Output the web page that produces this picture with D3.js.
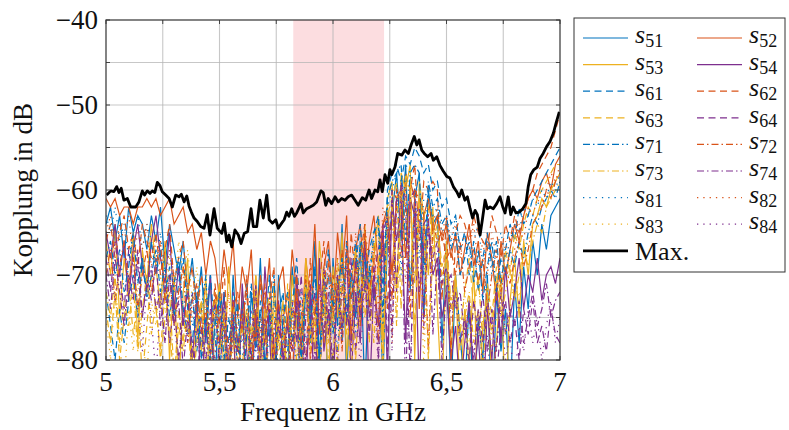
<!DOCTYPE html>
<html>
<head>
<meta charset="utf-8">
<script src="https://cdn.jsdelivr.net/npm/d3@7"></script>
<style>
  body { margin: 0; background: #fff; }
  svg { display: block; }
  svg text { font-family: "Liberation Serif", "Times New Roman", serif; fill: #111; }
</style>
</head>
<body>
<div id="chart"></div>
<script>
// sampling of the coupling curves (GHz)
const freqStart = 5, freqStep = 0.02, freqCount = 101;
const freqs = d3.range(freqCount).map(i => +(freqStart + i * freqStep).toFixed(2));

const seriesNames = ["51", "52", "53", "54", "61", "62", "63", "64", "71", "72", "73", "74", "81", "82", "83", "84"];

const s51 = [-64,-62,-66,-63,-68,-62,-65,-63,-64,-67, -63,-66,-62,-69,-64,-67,-70,-66,-72,-68,
  -74,-69,-78,-70,-83,-71,-76,-84,-70,-79, -73,-85,-72,-78,-68,-81,-74,-86,-70,-77,
  -82,-69,-75,-84,-71,-78,-66,-80,-70,-85, -68,-76,-64,-82,-70,-75,-66,-84,-69,-73,
  -70,-82,-66,-63,-58,-66,-57,-72,-61,-58, -75,-60,-64,-63,-78,-66,-84,-70,-77,-84,
  -73,-86,-75,-80,-70,-88,-72,-79,-74,-85, -71,-78,-69,-74,-66,-70,-64,-67,-63,-62, -61];
const s52 = [-61,-62,-61,-63,-62,-62,-64,-62,-62,-61, -62,-61,-63,-62,-61,-64,-63,-62,-65,-64,
  -67,-65,-70,-66,-68,-73,-67,-71,-66,-75, -69,-72,-67,-78,-70,-74,-68,-80,-71,-69,
  -76,-67,-72,-79,-68,-73,-64,-77,-69,-66, -74,-65,-70,-63,-78,-67,-64,-72,-66,-63,
  -69,-64,-62,-70,-61,-60,-68,-59,-61,-74, -63,-61,-65,-63,-66,-64,-68,-65,-70,-67,
  -64,-69,-66,-72,-65,-68,-73,-66,-70,-67, -64,-66,-63,-61,-60,-61,-59,-58,-60,-57, -56];
const s53 = [-66,-70,-64,-75,-68,-72,-65,-78,-67,-71, -64,-69,-74,-66,-80,-70,-84,-72,-68,-86,
  -74,-79,-70,-88,-75,-71,-82,-69,-77,-85, -72,-76,-83,-70,-79,-74,-87,-71,-78,-73,
  -84,-70,-76,-81,-68,-74,-79,-66,-72,-83, -69,-75,-65,-80,-71,-67,-76,-64,-73,-68,
  -63,-78,-61,-59,-72,-58,-60,-57,-80,-59, -63,-70,-62,-74,-85,-66,-79,-70,-85,-74,
  -81,-69,-87,-76,-72,-83,-78,-70,-86,-73, -68,-75,-66,-70,-64,-63,-61,-62,-60,-59, -58];
const s54 = [-65,-68,-64,-70,-66,-73,-67,-64,-69,-72, -66,-63,-68,-71,-65,-74,-69,-76,-71,-80,
  -73,-84,-76,-70,-86,-78,-72,-83,-75,-88, -71,-79,-85,-74,-81,-69,-77,-87,-73,-80,
  -75,-85,-70,-78,-83,-72,-86,-68,-79,-74, -84,-70,-77,-67,-82,-72,-78,-66,-85,-71,
  -76,-64,-82,-61,-66,-62,-78,-61,-63,-84, -66,-64,-70,-68,-75,-72,-80,-76,-84,-78,
  -73,-82,-77,-86,-74,-80,-71,-78,-69,-75, -72,-68,-74,-70,-72,-68,-73,-70,-69,-71, -68];
const s61 = [-72,-76,-80,-74,-78,-73,-70,-75,-68,-72, -66,-70,-67,-73,-69,-75,-71,-68,-74,-78,
  -72,-80,-75,-70,-77,-83,-72,-78,-74,-81, -76,-71,-79,-85,-73,-77,-70,-82,-75,-72,
  -79,-74,-68,-77,-71,-75,-69,-80,-72,-67, -74,-70,-78,-66,-73,-69,-64,-71,-67,-65,
  -63,-72,-60,-58,-57,-59,-56,-57,-55,-56, -58,-57,-60,-59,-62,-61,-64,-63,-67,-65,
  -70,-66,-72,-68,-65,-69,-66,-71,-67,-64, -66,-62,-64,-63,-61,-60,-59,-58,-57,-56, -55];
const s62 = [-66,-64,-68,-65,-63,-67,-65,-69,-64,-66, -68,-65,-70,-67,-64,-71,-68,-66,-72,-69,
  -75,-70,-73,-78,-71,-76,-69,-80,-74,-72, -77,-70,-82,-75,-71,-78,-73,-69,-84,-76,
  -72,-79,-70,-74,-81,-68,-75,-71,-66,-78, -70,-73,-67,-76,-65,-71,-68,-64,-74,-66,
  -70,-65,-74,-60,-61,-68,-58,-60,-57,-66, -59,-60,-59,-60,-73,-63,-80,-65,-63,-64,
  -66,-63,-65,-66,-67,-63,-65,-68,-64,-66, -63,-65,-63,-61,-60,-58,-57,-56,-55,-53, -51];
const s63 = [-74,-78,-72,-80,-75,-71,-77,-73,-82,-76, -70,-74,-79,-72,-76,-83,-74,-78,-71,-80,
  -76,-73,-85,-77,-72,-79,-75,-86,-73,-78, -81,-74,-77,-70,-84,-76,-72,-80,-75,-87,
  -71,-78,-74,-82,-69,-77,-73,-85,-70,-76, -80,-68,-75,-72,-83,-67,-74,-70,-78,-66,
  -68,-80,-63,-61,-59,-74,-58,-60,-77,-61, -63,-62,-66,-64,-69,-67,-73,-70,-77,-72,
  -68,-74,-70,-78,-71,-75,-69,-73,-67,-70, -65,-67,-64,-62,-63,-61,-60,-59,-58,-57, -57];
const s64 = [-68,-72,-66,-70,-74,-67,-71,-69,-75,-70, -73,-68,-76,-71,-78,-73,-80,-75,-72,-82,
  -77,-74,-86,-79,-73,-81,-76,-84,-72,-78, -83,-75,-80,-71,-87,-77,-74,-82,-76,-79,
  -85,-73,-78,-70,-81,-75,-72,-84,-69,-77, -74,-80,-71,-76,-68,-79,-73,-66,-75,-70,
  -67,-64,-79,-60,-72,-59,-62,-82,-63,-62, -76,-64,-68,-66,-71,-69,-74,-72,-78,-75,
  -80,-73,-77,-72,-79,-74,-82,-76,-73,-78, -75,-80,-74,-77,-73,-78,-76,-79,-74,-77, -78];
const s71 = [-68,-66,-70,-67,-72,-69,-65,-71,-68,-73, -70,-67,-72,-69,-75,-71,-68,-74,-77,-72,
  -79,-74,-70,-82,-76,-72,-80,-75,-78,-73, -85,-77,-71,-79,-74,-81,-76,-70,-83,-75,
  -72,-78,-74,-80,-71,-76,-69,-82,-73,-70, -77,-72,-68,-75,-70,-66,-73,-68,-71,-65,
  -64,-75,-61,-59,-58,-57,-66,-58,-57,-58, -70,-59,-62,-61,-64,-63,-67,-65,-70,-68,
  -66,-71,-67,-73,-69,-66,-72,-68,-70,-67, -69,-66,-68,-65,-63,-64,-62,-61,-60,-61, -59];
const s72 = [-70,-67,-73,-69,-66,-71,-68,-74,-70,-67, -72,-69,-66,-73,-70,-76,-72,-69,-78,-73,
  -71,-77,-74,-80,-72,-78,-75,-83,-73,-79, -76,-72,-81,-74,-78,-71,-85,-76,-73,-79,
  -75,-82,-72,-77,-70,-80,-74,-71,-78,-68, -75,-71,-79,-67,-73,-69,-76,-65,-72,-68,
  -78,-64,-63,-73,-60,-61,-59,-75,-60,-61, -63,-79,-64,-66,-65,-68,-67,-70,-66,-72,
  -69,-67,-71,-68,-74,-70,-67,-72,-69,-71, -68,-66,-69,-67,-64,-63,-62,-60,-61,-59, -58];
const s73 = [-72,-75,-70,-78,-73,-76,-71,-79,-74,-70, -77,-73,-80,-75,-72,-82,-76,-79,-74,-84,
  -78,-73,-81,-76,-87,-79,-74,-83,-77,-80, -75,-86,-78,-72,-81,-76,-84,-73,-79,-77,
  -83,-74,-80,-76,-71,-79,-75,-82,-72,-78, -74,-81,-70,-77,-73,-80,-69,-75,-71,-78,
  -68,-82,-64,-62,-76,-61,-59,-60,-71,-61, -64,-80,-67,-65,-70,-68,-74,-71,-79,-75,
  -72,-78,-74,-81,-73,-77,-70,-75,-72,-69, -73,-70,-67,-69,-66,-64,-65,-62,-61,-60, -60];
const s74 = [-70,-74,-68,-72,-76,-70,-73,-67,-75,-71, -69,-74,-72,-78,-70,-76,-73,-81,-75,-78,
  -83,-76,-80,-74,-85,-78,-73,-82,-77,-79, -74,-84,-78,-72,-80,-75,-86,-77,-74,-81,
  -76,-79,-73,-84,-75,-71,-80,-74,-77,-72, -82,-70,-76,-73,-79,-68,-75,-71,-77,-69,
  -80,-65,-63,-77,-61,-60,-84,-61,-60,-72, -64,-63,-77,-68,-80,-71,-70,-74,-72,-77,
  -75,-80,-74,-78,-73,-76,-79,-72,-77,-74, -76,-73,-78,-75,-72,-76,-74,-71,-75,-73, -72];
const s81 = [-63,-65,-62,-66,-64,-68,-65,-63,-67,-64, -66,-69,-65,-70,-67,-72,-69,-74,-71,-76,
  -73,-78,-75,-80,-74,-79,-76,-82,-75,-78, -80,-74,-83,-77,-75,-81,-78,-73,-85,-76,
  -79,-74,-82,-72,-78,-75,-70,-80,-73,-76, -71,-79,-68,-74,-70,-77,-67,-72,-69,-66,
  -65,-76,-62,-60,-58,-70,-57,-58,-60,-68, -61,-60,-63,-62,-65,-64,-66,-63,-67,-65,
  -68,-66,-64,-69,-66,-70,-67,-65,-68,-66, -64,-65,-62,-63,-61,-62,-60,-61,-59,-60, -58];
const s82 = [-65,-63,-67,-64,-66,-63,-68,-65,-67,-64, -69,-66,-68,-71,-67,-70,-73,-69,-72,-75,
  -71,-77,-73,-76,-80,-74,-78,-72,-81,-76, -74,-79,-77,-83,-75,-78,-73,-80,-76,-74,
  -82,-75,-71,-78,-74,-69,-77,-72,-75,-70, -76,-68,-73,-66,-71,-65,-74,-64,-69,-67,
  -74,-62,-64,-78,-62,-60,-71,-62,-60,-63, -77,-61,-64,-62,-65,-63,-66,-64,-68,-65,
  -67,-64,-69,-66,-70,-65,-68,-71,-66,-69, -67,-64,-66,-62,-63,-61,-62,-60,-58,-59, -57];
const s83 = [-75,-80,-72,-78,-83,-74,-79,-71,-77,-82, -73,-76,-70,-74,-68,-72,-66,-70,-67,-73,
  -69,-75,-71,-78,-73,-80,-76,-72,-79,-75, -82,-74,-78,-71,-80,-76,-73,-84,-77,-74,
  -79,-72,-81,-75,-70,-78,-73,-76,-69,-80, -74,-71,-77,-68,-75,-72,-66,-73,-70,-65,
  -64,-80,-62,-61,-75,-60,-62,-70,-63,-62, -81,-64,-67,-66,-70,-68,-73,-71,-76,-72,
  -78,-74,-71,-76,-73,-79,-75,-72,-77,-74, -70,-73,-68,-66,-64,-63,-62,-61,-60,-60, -59];
const s84 = [-67,-70,-73,-69,-76,-72,-68,-74,-79,-71, -75,-82,-73,-78,-70,-76,-80,-74,-78,-72,
  -77,-81,-75,-84,-79,-73,-86,-78,-75,-81, -77,-83,-74,-79,-76,-85,-72,-80,-78,-74,
  -81,-77,-73,-86,-79,-75,-82,-71,-77,-74, -80,-72,-78,-69,-76,-73,-81,-70,-75,-72,
  -81,-66,-64,-79,-61,-62,-60,-85,-62,-64, -73,-65,-69,-67,-72,-70,-75,-73,-78,-76,
  -82,-79,-75,-81,-77,-84,-78,-74,-80,-77, -83,-76,-79,-74,-78,-75,-80,-76,-73,-78, -75];

const seriesValues = [s51, s52, s53, s54, s61, s62, s63, s64, s71, s72, s73, s74, s81, s82, s83, s84];

// envelope (Max.)
const maxFreq = [5.003,5.021,5.035,5.047,5.057,5.067,5.079,5.094,5.109,5.131,5.145,5.160,5.170,5.182,5.194,5.204,5.215,5.226,5.238,5.248,
  5.263,5.278,5.292,5.307,5.322,5.332,5.344,5.356,5.366,5.376,5.388,5.402,5.417,5.432,5.446,5.458,5.476,5.490,5.510,5.521,
  5.532,5.542,5.554,5.568,5.583,5.595,5.609,5.624,5.639,5.649,5.664,5.678,5.693,5.708,5.719,5.733,5.748,5.759,5.774,5.785,
  5.796,5.806,5.818,5.830,5.840,5.859,5.869,5.884,5.899,5.913,5.928,5.947,5.957,5.968,5.979,5.994,6.009,6.023,6.038,6.053,
  6.067,6.082,6.097,6.111,6.129,6.144,6.159,6.170,6.185,6.197,6.207,6.217,6.229,6.241,6.251,6.259,6.273,6.285,6.303,6.317,
  6.332,6.344,6.358,6.369,6.379,6.391,6.402,6.417,6.432,6.442,6.457,6.471,6.486,6.501,6.515,6.530,6.545,6.556,6.567,6.581,
  6.592,6.604,6.615,6.626,6.636,6.648,6.658,6.670,6.680,6.692,6.706,6.721,6.736,6.748,6.758,6.772,6.783,6.794,6.806,6.821,
  6.836,6.850,6.860,6.871,6.885,6.900,6.912,6.926,6.941,6.956,6.971,6.982,6.997];
const maxDb = [-60.6,-60.1,-60.2,-59.6,-60.3,-59.8,-61.2,-61.0,-62.0,-62.0,-61.4,-60.1,-60.6,-60.1,-60.4,-60.1,-60.3,-59.1,-59.5,-60.2,
  -60.6,-61.0,-62.0,-60.6,-60.8,-60.5,-61.4,-60.7,-61.9,-62.6,-63.3,-63.7,-64.3,-64.5,-62.9,-65.3,-62.2,-64.5,-65.1,-63.9,
  -66.1,-65.3,-66.7,-64.7,-65.3,-66.3,-65.1,-64.9,-62.2,-64.3,-64.3,-61.2,-63.3,-60.6,-63.5,-63.9,-63.5,-64.5,-63.9,-63.5,
  -62.6,-63.1,-62.2,-63.1,-62.7,-61.6,-62.7,-62.2,-62.0,-61.8,-61.4,-60.1,-60.3,-61.8,-61.0,-61.6,-60.8,-61.4,-61.0,-61.2,
  -60.8,-60.6,-61.2,-61.8,-60.9,-61.2,-60.0,-61.0,-60.0,-60.2,-58.8,-60.2,-58.2,-59.2,-57.6,-58.2,-57.3,-55.7,-55.9,-55.3,
  -55.7,-54.7,-53.7,-54.7,-54.1,-55.3,-55.7,-56.1,-55.7,-56.5,-56.1,-57.1,-57.8,-58.4,-58.6,-59.6,-60.2,-60.8,-60.0,-61.2,
  -60.8,-62.2,-63.3,-62.4,-62.9,-65.3,-63.5,-61.2,-62.2,-62.0,-62.2,-61.6,-60.8,-62.0,-62.7,-60.8,-62.9,-62.0,-62.7,-62.6,
  -62.2,-61.6,-59.6,-58.2,-57.6,-57.3,-56.3,-55.7,-54.9,-54.3,-53.3,-52.2,-50.8];

// highlighted band (GHz)
const bandRange = [5.825, 6.225];

const xTicks = [5, 5.5, 6, 6.5, 7];
const xGrid = [5.25, 5.75, 6.25, 6.75];
const yTicks = [-40, -50, -60, -70, -80];
const yGrid = [-45, -55, -65, -75];

const colors = ["#0072BD", "#D95319", "#EDB120", "#7E2F8E"];
const dashes = [null, "7,4.5", "7,3,1.5,3", "1.3,5"];

const W = 789, H = 430;
const margin = { top: 20, right: 229, bottom: 70, left: 106 };
const width = W - margin.left - margin.right;
const height = H - margin.top - margin.bottom;

const svg = d3.select("#chart").append("svg")
  .attr("width", W)
  .attr("height", H);

const g = svg.append("g")
  .attr("transform", `translate(${margin.left},${margin.top})`);

const x = d3.scaleLinear().domain([5, 7]).range([0, width]);
const y = d3.scaleLinear().domain([-80, -40]).range([height, 0]);

g.append("defs").append("clipPath").attr("id", "plot-clip")
  .append("rect").attr("width", width).attr("height", height);

g.append("rect")
  .attr("x", x(bandRange[0]))
  .attr("y", 0)
  .attr("width", x(bandRange[1]) - x(bandRange[0]))
  .attr("height", height)
  .attr("fill", "#fcdde0");

// grid
const gridX = xTicks.concat(xGrid).filter(v => v > 5 && v < 7);
const gridY = yTicks.concat(yGrid).filter(v => v > -80 && v < -40);
g.append("g").selectAll("line").data(gridX).join("line")
  .attr("x1", d => x(d)).attr("x2", d => x(d))
  .attr("y1", 0).attr("y2", height)
  .attr("stroke", "#b4b4b4").attr("stroke-opacity", 0.75).attr("stroke-width", 1.1);
g.append("g").selectAll("line").data(gridY).join("line")
  .attr("y1", d => y(d)).attr("y2", d => y(d))
  .attr("x1", 0).attr("x2", width)
  .attr("stroke", "#b4b4b4").attr("stroke-opacity", 0.75).attr("stroke-width", 1.1);

const line = d3.line()
  .x(d => x(d[0]))
  .y(d => y(d[1]));

const plot = g.append("g").attr("clip-path", "url(#plot-clip)");

seriesValues.forEach((vals, k) => {
  plot.append("path")
    .datum(vals.map((v, i) => [freqs[i], v]))
    .attr("d", line)
    .attr("fill", "none")
    .attr("stroke", colors[k % 4])
    .attr("stroke-width", 1.2)
    .attr("stroke-dasharray", dashes[Math.floor(k / 4)]);
});

plot.append("path")
  .datum(maxFreq.map((f, i) => [f, maxDb[i]]))
  .attr("d", line)
  .attr("fill", "none")
  .attr("stroke", "#000")
  .attr("stroke-width", 2.8)
  .attr("stroke-linejoin", "round");

// inward ticks on all four sides
const allX = xTicks.concat(xGrid);
const allY = yTicks.concat(yGrid);
const ticks = g.append("g").attr("stroke", "#444").attr("stroke-width", 1);
allX.forEach(v => {
  ticks.append("line").attr("x1", x(v)).attr("x2", x(v)).attr("y1", height).attr("y2", height - 4);
  ticks.append("line").attr("x1", x(v)).attr("x2", x(v)).attr("y1", 0).attr("y2", 4);
});
allY.forEach(v => {
  ticks.append("line").attr("y1", y(v)).attr("y2", y(v)).attr("x1", 0).attr("x2", 4);
  ticks.append("line").attr("y1", y(v)).attr("y2", y(v)).attr("x1", width).attr("x2", width - 4);
});

g.append("rect")
  .attr("width", width).attr("height", height)
  .attr("fill", "none").attr("stroke", "#333").attr("stroke-width", 1.2);

const fmtX = d => String(d).replace(".", ",");
g.append("g").selectAll("text").data(xTicks).join("text")
  .attr("x", d => x(d))
  .attr("y", height + 31)
  .attr("text-anchor", "middle")
  .attr("font-size", 27)
  .text(fmtX);

g.append("g").selectAll("text").data(yTicks).join("text")
  .attr("x", -8)
  .attr("y", d => y(d) + 9)
  .attr("text-anchor", "end")
  .attr("font-size", 27)
  .text(d => d3.format("d")(d));

svg.append("text")
  .attr("x", margin.left + width / 2)
  .attr("y", 421)
  .attr("text-anchor", "middle")
  .attr("font-size", 27)
  .text("Frequenz in GHz");

svg.append("text")
  .attr("transform", `translate(32,${margin.top + height / 2}) rotate(-90)`)
  .attr("text-anchor", "middle")
  .attr("font-size", 27)
  .text("Kopplung in dB");

// legend
const legend = svg.append("g").attr("transform", "translate(574,18)");
legend.append("rect")
  .attr("width", 211).attr("height", 254)
  .attr("fill", "#fff").attr("stroke", "#333").attr("stroke-width", 1);

seriesNames.forEach((name, k) => {
  const col = k % 2, row = Math.floor(k / 2);
  const lx = 9 + col * 114, ly = 20 + row * 26.6;
  legend.append("line")
    .attr("x1", lx).attr("x2", lx + 45)
    .attr("y1", ly).attr("y2", ly)
    .attr("stroke", colors[k % 4])
    .attr("stroke-width", 1.2)
    .attr("stroke-dasharray", dashes[Math.floor(k / 4)]);
  const t = legend.append("text")
    .attr("x", lx + 52).attr("y", ly + 5)
    .attr("font-size", 26);
  t.append("tspan").attr("font-style", "italic").text("s");
  t.append("tspan").attr("font-size", 18).attr("dy", 4).text(name);
});

const my = 20 + 8 * 26.6;
legend.append("line")
  .attr("x1", 9).attr("x2", 54)
  .attr("y1", my).attr("y2", my)
  .attr("stroke", "#000").attr("stroke-width", 2.8);
legend.append("text")
  .attr("x", 61).attr("y", my + 9)
  .attr("font-size", 26)
  .text("Max.");
</script>
</body>
</html>
